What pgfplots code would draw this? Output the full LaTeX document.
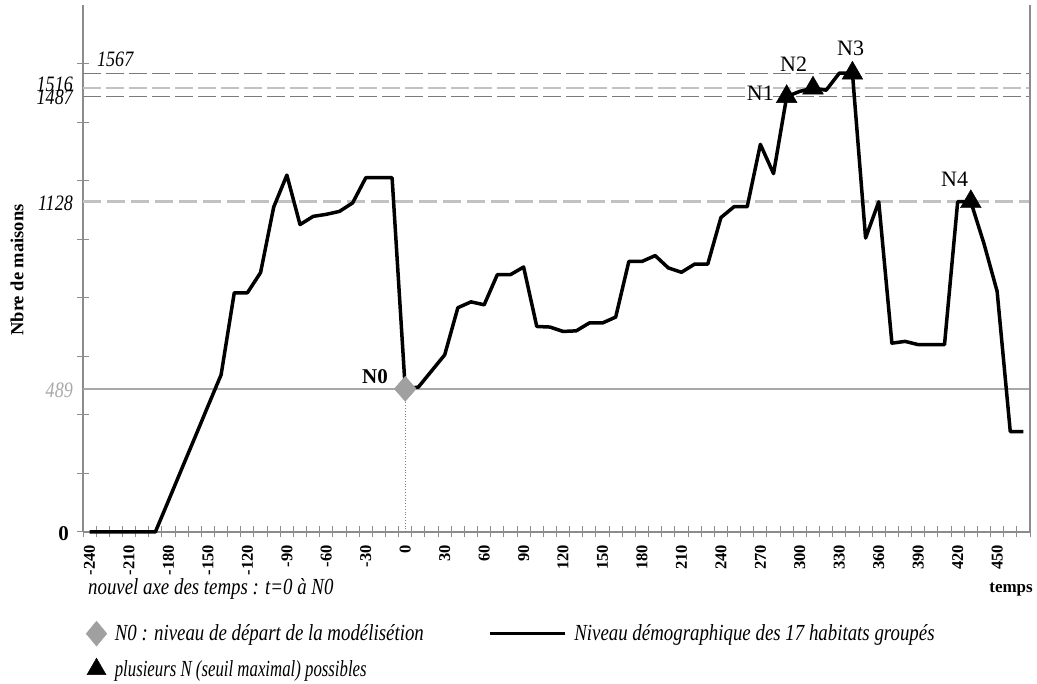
\documentclass[border=0pt]{standalone}
\usepackage{pgfplots}
\pgfplotsset{compat=1.18}
\usepackage{fontspec}
\setmainfont{Liberation Serif}
\newfontfamily\condfont[FakeStretch=0.82]{Liberation Serif}
\newfontfamily\narrowfont[FakeStretch=0.73]{Liberation Serif}
\definecolor{axisgray}{HTML}{8C8C8C}
\definecolor{darkdash}{HTML}{7A7A7A}
\definecolor{lightdash}{HTML}{C2C2C2}
\definecolor{refline}{HTML}{A8A8A8}
\definecolor{diamondgray}{HTML}{A0A0A0}
\newcommand{\itlab}{\condfont\itshape\fontsize{23}{26}\selectfont}
\newcommand{\numlab}{\condfont\itshape\fontsize{22}{24}\selectfont}
\newcommand{\nlab}{\fontsize{22}{24}\selectfont}

\begin{document}
\begin{tikzpicture}
\useasboundingbox (0pt,0pt) rectangle (1037pt,684pt);
\begin{axis}[
  at={(83pt,152pt)}, anchor=south west,
  scale only axis, width=947pt, height=527pt,
  xmin=-245, xmax=475, ymin=0, ymax=1800,
  axis lines=left, axis line style={draw=axisgray, line width=1.3pt, -},
  clip=false,
  /pgf/number format/assume math mode=true,
  xtick={-240,-210,...,450},
  minor xtick={-245,-235,...,475},
  major x tick style={draw=none},
  minor x tick style={draw=axisgray, line width=1pt},
  minor tick length=11pt,
  xtick align=center,
  ytick={0,200,...,1600},
  yticklabels={},
  ytick style={draw=axisgray, line width=1pt},
  major tick length=12pt,
  ytick align=center,
  xticklabel shift=7pt,
  xticklabel style={rotate=90, anchor=east, font=\bfseries\fontsize{16.5}{18}\selectfont, inner sep=0pt},
  legend style={at={(0,-0.165)}, anchor=north west, draw=none, fill=none,
    font=\itlab, legend columns=2, row sep=12pt,
    /tikz/every odd column/.append style={column sep=6pt},
    /tikz/every even column/.append style={column sep=62pt}},
  legend cell align=left,
]
% reference levels
\draw[darkdash, line width=1.2pt, dash pattern=on 18pt off 5pt] (axis cs:-245,1567) -- (axis cs:475,1567);
\draw[lightdash, line width=2.6pt, dash pattern=on 18pt off 5pt] (axis cs:-245,1516) -- (axis cs:475,1516);
\draw[darkdash, line width=1.2pt, dash pattern=on 18pt off 5pt] (axis cs:-245,1487) -- (axis cs:475,1487);
\draw[lightdash, line width=2.6pt, dash pattern=on 18pt off 6pt] (axis cs:-245,1128) -- (axis cs:475,1128);
\draw[refline, line width=2.4pt] (axis cs:-245,489) -- (axis cs:475,489);
\draw[gray, dotted, line width=0.8pt] (axis cs:0,0) -- (axis cs:0,489);

\addplot[black, line width=3.5pt, line join=round, forget plot] coordinates {
(-240,0) (-230,0) (-220,0) (-210,0) (-200,0) (-190,0)
(-180,107) (-170,215) (-160,322) (-150,430) (-140,537)
(-130,817) (-120,817) (-110,886) (-100,1110) (-90,1219)
(-80,1050) (-70,1078) (-60,1085) (-50,1095) (-40,1124)
(-30,1210) (-20,1210) (-10,1210) (0,489) (10,495)
(20,550) (30,605) (40,766) (50,786) (60,776)
(70,879) (80,879) (90,905) (100,702) (110,700)
(120,685) (130,687) (140,714) (150,714) (160,734)
(170,924) (180,924) (190,944) (200,902) (210,887)
(220,915) (230,915) (240,1074) (250,1111) (260,1111)
(270,1324) (280,1224) (290,1487) (300,1505) (310,1516)
(320,1509) (330,1567) (340,1567) (350,1004) (360,1128)
(370,645) (380,651) (390,640) (400,640) (410,640)
(420,1128) (430,1128) (440,985) (450,822) (460,343) (470,343)
};
\addplot[only marks, mark=diamond*, mark size=12.5pt,
  mark options={fill=diamondgray, draw=diamondgray, xscale=1.17}, forget plot]
  coordinates {(0,489)};
\addplot[only marks, mark=triangle*, mark size=12pt,
  mark options={fill=black, draw=black}, forget plot]
  coordinates {(290,1487) (310,1516) (340,1567) (430,1128)};

\addlegendimage{legend image code/.code={
  \draw[draw=diamondgray, fill=diamondgray, mark=diamond*, mark size=12.5pt, mark options={xscale=1.1}] plot coordinates {(11pt,0pt)};}}
\addlegendentry{N0 : niveau de départ de la modélisétion}
\addlegendimage{legend image code/.code={\draw[black, line width=3.5pt] (0pt,0pt) -- (75pt,0pt);}}
\addlegendentry{Niveau démographique des 17 habitats groupés}
\addlegendimage{legend image code/.code={
  \draw[draw=black, fill=black, mark=triangle*, mark size=11pt] plot coordinates {(11pt,0pt)};}}
\addlegendentry{\narrowfont\itshape plusieurs N (seuil maximal) possibles}
\end{axis}

\draw[axisgray, line width=1.3pt] (1030pt,152pt) -- (1030pt,679pt);

\node[anchor=west, font=\numlab, inner sep=0pt] at (97pt,625pt) {1567};
\node[anchor=east, font=\numlab, inner sep=0pt] at (73pt,600pt) {1516};
\node[anchor=east, font=\numlab, inner sep=0pt] at (73pt,587pt) {1487};
\node[anchor=east, font=\numlab, inner sep=0pt] at (73pt,481pt) {1128};
\node[anchor=east, font=\numlab, text=refline, inner sep=0pt] at (73pt,294pt) {489};
\node[anchor=east, font=\bfseries\fontsize{21}{22}\selectfont, inner sep=0pt] at (69pt,150pt) {0};
\node[rotate=90, font=\bfseries\fontsize{18.5}{20}\selectfont, inner sep=0pt] at (17pt,414pt) {Nbre de maisons};

\node[anchor=base east, font=\bfseries\fontsize{21}{22}\selectfont, inner sep=0pt] at (388pt,300pt) {N0};
\node[anchor=base west, font=\nlab, inner sep=0pt] at (746.7pt,583pt) {N1};
\node[anchor=base west, font=\nlab, inner sep=0pt] at (780pt,612pt) {N2};
\node[anchor=base west, font=\nlab, inner sep=0pt] at (837pt,628pt) {N3};
\node[anchor=base west, font=\nlab, inner sep=0pt] at (941pt,497pt) {N4};

\node[anchor=base west, font=\itlab, inner sep=0pt] at (88pt,89pt) {nouvel axe des temps : t=0 à N0};
\node[anchor=base east, font=\bfseries\fontsize{17}{18}\selectfont, inner sep=0pt] at (1033pt,91pt) {temps};
\end{tikzpicture}
\end{document}
